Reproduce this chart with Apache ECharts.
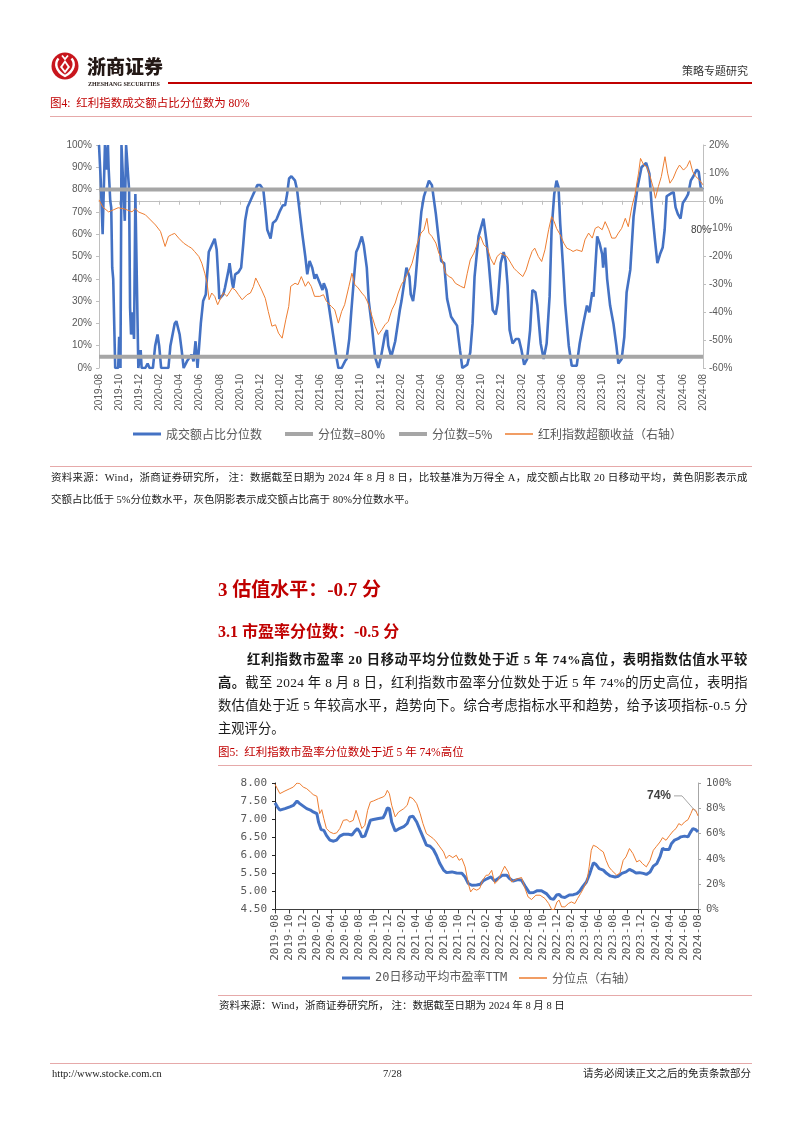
<!DOCTYPE html>
<html><head><meta charset="utf-8">
<script src="https://cdn.jsdelivr.net/npm/echarts@6/dist/echarts.min.js"></script>
<style>
html,body{margin:0;padding:0;background:#fff;}
#page{position:relative;width:802px;height:1133px;overflow:hidden;background:#fff;}
#chart{position:absolute;left:0;top:0;width:802px;height:1133px;z-index:0;}
.t{position:absolute;white-space:nowrap;line-height:1;z-index:2;font-family:"Liberation Serif","Noto Sans CJK SC",serif;color:#1a1a1a;}
.ln{position:absolute;z-index:2;height:1px;background:#e6a9a9;}
.red{color:#c00000;}
.b{font-weight:bold;}
.j{display:inline-block;}
</style></head>
<body><div id="page">
<div id="chart"></div>
<svg style="position:absolute;left:51px;top:52px;z-index:2" width="28" height="28" viewBox="0 0 28 28">
<circle cx="14" cy="14" r="13.5" fill="#c8161d"/>
<path d="M7.5 6.5 C3.5 11,4.5 19,14 24 C23.5 19,24.5 11,20.5 6.5" stroke="#fff" stroke-width="2.4" fill="none"/>
<path d="M14 8 L19 15 L14 21.5 L9 15Z" fill="#fff"/>
<path d="M14 11 L16.6 15 L14 18.6 L11.4 15Z" fill="#c8161d"/>
<path d="M11 3.5 L14 7 L17 3.5" stroke="#fff" stroke-width="1.8" fill="none"/>
</svg>
<div class="t" style="left:87px;top:56px;font-size:19px;font-weight:900;font-family:'Noto Sans CJK SC';color:#231815;">浙商证券</div>
<div class="t b" style="left:88px;top:81px;font-size:6px;color:#231815;">ZHESHANG SECURITIES</div>
<div class="ln" style="left:168px;top:82px;width:584px;height:2px;background:#c00000;"></div>
<div class="t" style="left:682px;top:66px;font-size:11px;color:#333;">策略专题研究</div>

<div class="t red" style="left:50px;top:98px;font-size:11.5px;">图4:&nbsp;&nbsp;红利指数成交额占比分位数为 80%</div>
<div class="ln" style="left:50px;top:116px;width:702px;"></div>

<div class="ln" style="left:50px;top:466px;width:702px;"></div>
<div class="t" style="left:51px;top:473px;font-size:10.5px;"><span class="j" data-w="697">资料来源：Wind，浙商证券研究所，  注：数据截至日期为 2024 年 8 月 8 日，比较基准为万得全 A，成交额占比取 20 日移动平均，黄色阴影表示成</span></div>
<div class="t" style="left:51px;top:495px;font-size:10.5px;">交额占比低于 5%分位数水平，灰色阴影表示成交额占比高于 80%分位数水平。</div>

<div class="t red b" style="left:218px;top:580px;font-size:19px;">3 估值水平：-0.7 分</div>
<div class="t red b" style="left:218px;top:624px;font-size:16px;">3.1 市盈率分位数：-0.5 分</div>

<div class="t b" style="left:247px;top:653px;font-size:13.3px;"><span class="j" data-w="501">红利指数市盈率 20 日移动平均分位数处于近 5 年 74%高位，表明指数估值水平较</span></div>
<div class="t" style="left:218px;top:676px;font-size:13.3px;"><span class="j" data-w="530"><b>高。</b>截至 2024 年 8 月 8 日，红利指数市盈率分位数处于近 5 年 74%的历史高位，表明指</span></div>
<div class="t" style="left:218px;top:699px;font-size:13.3px;"><span class="j" data-w="530">数估值处于近 5 年较高水平，趋势向下。综合考虑指标水平和趋势，给予该项指标-0.5 分</span></div>
<div class="t" style="left:218px;top:722px;font-size:13.3px;">主观评分。</div>

<div class="t red" style="left:218px;top:747px;font-size:11.5px;">图5:&nbsp;&nbsp;红利指数市盈率分位数处于近 5 年 74%高位</div>
<div class="ln" style="left:218px;top:765px;width:534px;"></div>

<div class="ln" style="left:218px;top:995px;width:534px;"></div>
<div class="t" style="left:219px;top:1001px;font-size:10.5px;">资料来源：Wind，浙商证券研究所，  注：数据截至日期为 2024 年 8 月 8 日</div>

<div class="ln" style="left:50px;top:1063px;width:702px;"></div>
<div class="t" style="left:52px;top:1069px;font-size:10.5px;">http://www.stocke.com.cn</div>
<div class="t" style="left:383px;top:1069px;font-size:10.5px;">7/28</div>
<div class="t" style="left:583px;top:1069px;font-size:10.5px;">请务必阅读正文之后的免责条款部分</div>
</div>
<script>
// ---------- data ----------
const xTickLabels = ['2019-08','2019-10','2019-12','2020-02','2020-04','2020-06','2020-08','2020-10','2020-12','2021-02','2021-04','2021-06','2021-08','2021-10','2021-12','2022-02','2022-04','2022-06','2022-08','2022-10','2022-12','2023-02','2023-04','2023-06','2023-08','2023-10','2023-12','2024-02','2024-04','2024-06','2024-08'];
const startDate = '2019-08-08';
const endDate = '2024-08-08';
const threshold80 = 80;
const threshold5 = 5;

// 成交额占比分位数 (%)
const turnoverPctl = [['2019-08-08',100],['2019-08-13',85],['2019-08-19',60],['2019-08-26',100],['2019-09-01',89],['2019-09-04',100],['2019-09-06',90],['2019-09-11',75],['2019-09-14',72],['2019-09-17',45],['2019-09-20',40],['2019-09-26',0],['2019-10-05',0],['2019-10-08',14],['2019-10-12',0],['2019-10-15',100],['2019-10-21',100],['2019-10-25',66],['2019-10-29',100],['2019-11-04',100],['2019-11-07',80],['2019-11-10',27],['2019-11-13',15],['2019-11-17',25],['2019-11-22',13],['2019-11-26',78],['2019-12-05',0],['2019-12-09',0],['2019-12-12',8],['2019-12-15',0],['2019-12-26',0],['2020-01-02',2],['2020-01-08',0],['2020-01-18',0],['2020-01-25',10],['2020-02-01',15],['2020-02-06',10],['2020-02-12',0],['2020-03-05',0],['2020-03-11',10],['2020-03-24',20],['2020-03-29',21],['2020-04-08',15],['2020-04-14',8],['2020-04-20',0],['2020-04-30',3],['2020-05-14',6],['2020-05-20',3],['2020-05-26',12],['2020-06-01',0],['2020-06-11',20],['2020-06-18',30],['2020-06-26',33],['2020-07-05',52],['2020-07-14',55],['2020-07-23',58],['2020-07-29',53],['2020-08-03',40],['2020-08-06',31],['2020-08-18',33],['2020-08-23',36],['2020-09-03',44],['2020-09-06',47],['2020-09-14',38],['2020-09-17',36],['2020-09-23',42],['2020-10-03',43],['2020-10-11',45],['2020-10-17',55],['2020-10-23',66],['2020-10-30',72],['2020-11-08',75],['2020-11-14',77],['2020-11-23',80],['2020-11-29',82],['2020-12-08',82],['2020-12-17',80],['2020-12-24',70],['2020-12-29',62],['2021-01-08',58],['2021-01-15',65],['2021-01-23',66],['2021-01-27',67],['2021-02-04',70],['2021-02-14',73],['2021-02-21',73],['2021-02-27',78],['2021-03-05',85],['2021-03-12',86],['2021-03-23',84],['2021-03-29',80],['2021-04-06',70],['2021-04-14',60],['2021-04-23',50],['2021-04-29',42],['2021-05-06',48],['2021-05-14',45],['2021-05-21',40],['2021-05-26',42],['2021-06-06',38],['2021-06-14',35],['2021-06-18',38],['2021-06-26',35],['2021-07-03',28],['2021-07-11',20],['2021-07-21',10],['2021-07-26',5],['2021-08-01',0],['2021-08-11',0],['2021-08-21',3],['2021-08-26',4],['2021-09-03',13],['2021-09-09',25],['2021-09-17',40],['2021-09-24',52],['2021-09-30',54],['2021-10-11',59],['2021-10-17',55],['2021-10-26',45],['2021-11-01',30],['2021-11-11',18],['2021-11-20',5],['2021-11-30',0],['2021-12-08',5],['2021-12-14',10],['2021-12-20',15],['2021-12-26',17],['2021-12-30',10],['2022-01-08',5],['2022-01-14',5],['2022-01-20',12],['2022-01-28',20],['2022-02-03',26],['2022-02-08',30],['2022-02-23',45],['2022-03-04',41],['2022-03-08',33],['2022-03-15',30],['2022-03-21',37],['2022-04-01',57],['2022-04-09',70],['2022-04-17',77],['2022-05-02',84],['2022-05-11',82],['2022-05-23',69],['2022-06-01',57],['2022-06-08',48],['2022-06-17',47],['2022-06-26',31],['2022-07-08',23],['2022-07-17',21],['2022-07-26',19],['2022-08-04',8],['2022-08-11',0],['2022-08-26',1.5],['2022-09-04',7],['2022-09-11',20],['2022-09-17',41],['2022-09-29',59],['2022-10-14',67],['2022-10-23',57],['2022-10-30',47],['2022-11-11',26],['2022-11-20',24],['2022-11-26',29],['2022-12-05',47],['2022-12-14',52],['2022-12-20',48],['2022-12-26',37],['2023-01-01',17],['2023-01-10',11],['2023-01-20',13],['2023-01-29',13],['2023-02-06',8],['2023-02-14',1.5],['2023-02-23',4],['2023-03-04',17],['2023-03-11',35],['2023-03-20',34],['2023-03-26',28],['2023-04-05',11],['2023-04-14',4],['2023-04-23',11],['2023-05-02',32],['2023-05-08',62],['2023-05-16',78],['2023-05-23',84],['2023-05-29',81],['2023-06-03',65],['2023-06-11',47],['2023-06-18',29],['2023-06-29',10],['2023-07-08',1],['2023-07-23',1],['2023-08-01',11],['2023-08-12',20],['2023-08-23',28],['2023-08-30',25],['2023-09-08',34],['2023-09-12',32],['2023-09-23',59],['2023-09-30',56],['2023-10-08',51],['2023-10-11',45],['2023-10-17',54],['2023-10-23',40],['2023-11-01',28],['2023-11-11',20],['2023-11-20',10],['2023-11-26',2],['2023-12-06',4],['2023-12-14',14],['2023-12-21',34],['2024-01-01',44],['2024-01-11',68],['2024-01-23',81],['2024-02-04',90],['2024-02-18',92],['2024-02-28',87],['2024-03-06',72],['2024-03-16',57],['2024-03-23',47],['2024-03-31',51],['2024-04-08',54],['2024-04-14',62],['2024-04-20',77],['2024-04-30',78],['2024-05-11',79],['2024-05-17',72],['2024-05-24',69],['2024-06-01',67],['2024-06-08',74],['2024-06-17',76],['2024-06-24',78],['2024-07-02',84],['2024-07-10',86],['2024-07-20',89],['2024-07-26',88],['2024-08-01',81],['2024-08-08',80]];

// 红利指数超额收益 (%, right axis)
const excessReturn = [['2019-08-08',0.3],['2019-08-20',-2.3],['2019-09-06',-4],['2019-09-20',-3.3],['2019-10-05',-2.5],['2019-10-26',-3],['2019-11-16',-4],['2019-11-26',-2.7],['2019-12-05',-4],['2019-12-26',-5],['2020-01-11',-6.9],['2020-01-26',-8.7],['2020-02-10',-11],['2020-02-24',-16.4],['2020-03-05',-12.8],['2020-03-14',-12.2],['2020-03-24',-11.7],['2020-04-05',-13.4],['2020-04-20',-15.2],['2020-05-05',-16.4],['2020-05-14',-17],['2020-05-23',-18.2],['2020-06-05',-20],['2020-06-14',-22.4],['2020-06-23',-26],['2020-06-30',-29.6],['2020-07-06',-35.5],['2020-07-14',-33.1],['2020-07-23',-34.3],['2020-08-01',-37.3],['2020-08-08',-35.5],['2020-08-18',-33],['2020-08-29',-34.3],['2020-09-14',-31.3],['2020-09-23',-32],['2020-10-03',-33.7],['2020-10-14',-35.5],['2020-10-29',-33.7],['2020-11-08',-33.1],['2020-11-17',-30.8],['2020-11-24',-27.7],['2020-12-02',-29.6],['2020-12-12',-32],['2020-12-23',-35],['2021-01-01',-39.7],['2021-01-12',-45],['2021-01-23',-44.5],['2021-02-01',-47.5],['2021-02-12',-49.3],['2021-02-23',-42.7],['2021-03-04',-37.9],['2021-03-10',-30.7],['2021-03-23',-29.6],['2021-04-01',-30.1],['2021-04-11',-27.2],['2021-04-23',-30.7],['2021-05-02',-29],['2021-05-11',-30.7],['2021-05-21',-34.3],['2021-06-06',-34.3],['2021-06-17',-33.7],['2021-06-26',-36.1],['2021-07-11',-37.9],['2021-07-21',-39.1],['2021-08-01',-43.9],['2021-08-11',-39.7],['2021-08-20',-37.3],['2021-09-02',-30.7],['2021-09-11',-26],['2021-09-20',-30.1],['2021-09-30',-31.3],['2021-10-11',-33.1],['2021-10-20',-34.3],['2021-10-30',-36.7],['2021-11-11',-41.5],['2021-11-20',-45],['2021-11-30',-48],['2021-12-11',-46.2],['2021-12-20',-44.5],['2021-12-30',-43.3],['2022-01-10',-39.1],['2022-01-20',-36.7],['2022-01-29',-33.1],['2022-02-08',-30],['2022-02-17',-28.4],['2022-02-27',-26],['2022-03-12',-22.4],['2022-03-28',-15.2],['2022-04-08',-11.6],['2022-04-17',-10.4],['2022-04-26',-6.3],['2022-05-02',-11.6],['2022-05-11',-12.8],['2022-05-23',-15.2],['2022-06-01',-18.8],['2022-06-11',-21.2],['2022-06-21',-26],['2022-07-02',-27.2],['2022-07-11',-27.8],['2022-07-21',-29.6],['2022-08-06',-30.7],['2022-08-17',-31.3],['2022-08-26',-26],['2022-09-04',-21.2],['2022-09-15',-18.8],['2022-09-26',-15.2],['2022-10-05',-12.8],['2022-10-15',-15.8],['2022-10-26',-17],['2022-11-04',-20.6],['2022-11-15',-23],['2022-11-24',-20],['2022-12-05',-18.8],['2022-12-14',-19.4],['2022-12-24',-20],['2023-01-05',-22.4],['2023-01-14',-24.2],['2023-01-24',-25.4],['2023-02-10',-27.2],['2023-02-20',-24.8],['2023-03-01',-21.2],['2023-03-10',-18.2],['2023-03-18',-17],['2023-03-29',-20],['2023-04-08',-21.8],['2023-04-18',-17.6],['2023-04-29',-10.4],['2023-05-08',-5.7],['2023-05-16',-7.5],['2023-05-23',-9.9],['2023-06-03',-12.2],['2023-06-14',-15.2],['2023-06-23',-17],['2023-07-04',-17.6],['2023-07-12',-18.2],['2023-07-23',-17.6],['2023-08-08',-18.2],['2023-08-17',-14],['2023-08-28',-11.6],['2023-09-08',-13.4],['2023-09-17',-9.9],['2023-09-26',-9.3],['2023-10-08',-10.4],['2023-10-17',-7.5],['2023-10-28',-10.4],['2023-11-06',-13.4],['2023-11-17',-13.4],['2023-11-26',-11.6],['2023-12-06',-9.9],['2023-12-17',-6.3],['2023-12-26',-9.3],['2024-01-06',-2.1],['2024-01-15',2.1],['2024-01-26',9.9],['2024-02-01',15.2],['2024-02-11',12.8],['2024-02-20',12.2],['2024-03-01',8.7],['2024-03-11',4.5],['2024-03-17',0.9],['2024-03-26',5.1],['2024-04-04',8.7],['2024-04-15',15.8],['2024-04-23',9.9],['2024-04-30',6.3],['2024-05-10',8.1],['2024-05-20',11],['2024-05-29',12.8],['2024-06-10',11],['2024-06-20',12.2],['2024-06-29',14.4],['2024-07-08',10.4],['2024-07-17',8.7],['2024-07-28',7.5],['2024-08-08',5.7]];

// 20日移动平均市盈率TTM
const peTTM = [['2019-08-08',7.45],['2019-08-18',7.34],['2019-08-29',7.25],['2019-09-20',7.29],['2019-10-11',7.34],['2019-10-26',7.38],['2019-11-11',7.5],['2019-11-23',7.43],['2019-12-08',7.36],['2019-12-23',7.29],['2020-01-08',7.25],['2020-01-20',7.2],['2020-02-05',7.15],['2020-02-12',6.92],['2020-02-23',6.71],['2020-03-06',6.69],['2020-03-17',6.55],['2020-04-01',6.42],['2020-04-17',6.39],['2020-04-30',6.42],['2020-05-14',6.53],['2020-05-29',6.58],['2020-06-20',6.58],['2020-07-05',6.56],['2020-07-18',6.67],['2020-07-29',6.74],['2020-08-08',6.65],['2020-08-17',6.51],['2020-08-30',6.53],['2020-09-11',6.74],['2020-09-23',6.97],['2020-10-06',6.99],['2020-10-28',7.02],['2020-11-17',7.04],['2020-11-26',7.15],['2020-12-05',7.31],['2020-12-14',7.29],['2020-12-24',6.92],['2021-01-08',6.67],['2021-01-23',6.73],['2021-02-14',6.79],['2021-03-01',6.88],['2021-03-12',7.06],['2021-03-26',7.08],['2021-04-11',6.92],['2021-04-26',6.69],['2021-05-08',6.51],['2021-05-23',6.28],['2021-06-08',6.25],['2021-06-22',6.16],['2021-07-05',6.0],['2021-07-20',5.77],['2021-08-05',5.59],['2021-08-18',5.52],['2021-09-10',5.54],['2021-09-30',5.51],['2021-10-23',5.5],['2021-11-06',5.4],['2021-11-20',5.22],['2021-12-05',5.17],['2021-12-26',5.18],['2022-01-11',5.2],['2022-01-24',5.3],['2022-02-08',5.35],['2022-02-26',5.4],['2022-03-14',5.29],['2022-03-29',5.36],['2022-04-17',5.45],['2022-05-05',5.45],['2022-05-17',5.36],['2022-06-01',5.29],['2022-06-23',5.33],['2022-07-08',5.31],['2022-07-23',5.15],['2022-08-11',4.96],['2022-08-29',4.97],['2022-09-14',5.02],['2022-10-02',5.02],['2022-10-23',4.94],['2022-11-11',4.8],['2022-11-23',4.78],['2022-12-06',4.9],['2022-12-17',4.92],['2022-12-28',4.85],['2023-01-11',4.83],['2023-01-30',4.9],['2023-02-17',4.91],['2023-03-04',4.94],['2023-03-16',5.01],['2023-03-29',5.13],['2023-04-14',5.26],['2023-04-29',5.5],['2023-05-14',5.79],['2023-05-25',5.75],['2023-06-08',5.63],['2023-06-26',5.59],['2023-07-10',5.5],['2023-07-26',5.43],['2023-08-16',5.4],['2023-08-29',5.42],['2023-09-14',5.5],['2023-10-02',5.54],['2023-10-17',5.61],['2023-10-30',5.57],['2023-11-14',5.51],['2023-11-29',5.52],['2023-12-16',5.5],['2023-12-29',5.47],['2024-01-14',5.54],['2024-01-28',5.7],['2024-02-12',5.77],['2024-02-26',5.96],['2024-03-08',6.19],['2024-03-17',6.16],['2024-04-05',6.16],['2024-04-15',6.32],['2024-04-29',6.42],['2024-05-14',6.46],['2024-05-26',6.51],['2024-06-11',6.53],['2024-06-26',6.51],['2024-07-05',6.62],['2024-07-17',6.74],['2024-07-29',6.71],['2024-08-08',6.65]];

// 分位点 (%, right axis)
const pePctl = [['2019-08-08',99],['2019-08-18',95.5],['2019-08-29',91.6],['2019-09-20',93.7],['2019-10-11',95.5],['2019-10-26',96.8],['2019-11-11',100],['2019-11-23',99.5],['2019-12-08',96.8],['2019-12-23',95.5],['2020-01-08',92.9],['2020-01-20',90.8],['2020-02-05',89.5],['2020-02-17',75.8],['2020-02-26',78.9],['2020-03-06',71.8],['2020-03-17',64],['2020-04-01',61.3],['2020-04-17',60],['2020-04-30',60.5],['2020-05-14',64],['2020-05-29',70.5],['2020-06-14',71],['2020-06-26',69.2],['2020-07-11',70.5],['2020-07-23',78.4],['2020-08-08',69.2],['2020-08-17',64],['2020-08-30',66.6],['2020-09-11',78.4],['2020-09-23',85],['2020-10-06',85.8],['2020-10-28',87.6],['2020-11-17',89],['2020-11-26',90.3],['2020-12-05',94.2],['2020-12-14',91.6],['2020-12-24',82.4],['2021-01-08',73.2],['2021-01-23',77.1],['2021-02-14',79.7],['2021-03-01',82.4],['2021-03-12',89],['2021-03-26',87.6],['2021-04-11',83.7],['2021-04-26',75.8],['2021-05-08',67.9],['2021-05-23',60],['2021-06-08',57.9],['2021-06-22',56],['2021-07-05',53.4],['2021-07-20',49.5],['2021-08-05',45.5],['2021-08-16',40.3],['2021-08-29',42.9],['2021-09-14',41],['2021-09-29',42.9],['2021-10-11',38.9],['2021-10-23',40.3],['2021-11-06',33.7],['2021-11-20',20.5],['2021-11-30',13.9],['2021-12-11',16.6],['2021-12-26',15.3],['2022-01-08',16.6],['2022-01-21',23.2],['2022-02-05',27.1],['2022-02-15',27.1],['2022-03-01',31],['2022-03-14',20.5],['2022-03-29',23.2],['2022-04-14',29.7],['2022-04-26',34.2],['2022-05-11',29.7],['2022-05-26',21.8],['2022-06-08',23.2],['2022-06-23',24.5],['2022-07-08',25.3],['2022-07-23',16.6],['2022-08-05',10],['2022-08-20',7.9],['2022-09-08',11.3],['2022-09-26',11.3],['2022-10-17',8.7],['2022-11-02',4.7],['2022-11-15',0],['2022-11-26',0],['2022-12-08',6],['2022-12-17',7.4],['2022-12-28',2.1],['2023-01-11',2.1],['2023-01-26',4.7],['2023-02-08',6],['2023-02-23',4.7],['2023-03-07',8.7],['2023-03-20',12.6],['2023-04-01',16.6],['2023-04-17',23.2],['2023-04-26',33.7],['2023-05-05',46.8],['2023-05-14',50.8],['2023-05-29',49.5],['2023-06-11',47.4],['2023-06-26',45.5],['2023-07-08',38.9],['2023-07-20',33.7],['2023-08-01',31],['2023-08-23',27.1],['2023-09-06',28.9],['2023-09-20',38.9],['2023-10-02',41.6],['2023-10-17',48.2],['2023-11-01',44.2],['2023-11-17',37.6],['2023-11-30',38.9],['2023-12-12',36.3],['2023-12-29',33.7],['2024-01-14',38.9],['2024-01-28',46.8],['2024-02-11',50],['2024-02-26',53.4],['2024-03-08',56.8],['2024-03-23',54.7],['2024-04-08',58.7],['2024-04-23',62.1],['2024-05-05',64],['2024-05-17',67.9],['2024-05-29',66.6],['2024-06-11',69.2],['2024-06-26',71],['2024-07-08',75.8],['2024-07-17',79.7],['2024-07-29',78.4],['2024-08-08',74]];

// ---------- helpers ----------
function toTime(s){const p=s.split('-').map(Number);return new Date(p[0],p[1]-1,p[2]).getTime();}
function pts(arr){return arr.map(d=>[toTime(d[0]),d[1]]);}
const tMin = toTime(startDate), tMax = toTime(endDate);
const GREY='#595959';
const sans='Liberation Sans';
const mono='DejaVu Sans Mono';
const BLUE='#4472c4', ORANGE='#ed7d31', LGREY='#a6a6a6';

const chart = echarts.init(document.getElementById('chart'), null, {renderer:'canvas'});
function legendItem(name,left,top,font,color,h){
  return {data:[{name:name,icon:'rect',itemStyle:{color:color,borderWidth:0}}],left:left,top:top,padding:0,
    itemWidth:28,itemHeight:h,itemGap:0,selectedMode:false,
    textStyle:{fontSize:12,color:GREY,fontFamily:font,padding:[0,0,0,0]}};
}
const cjk='Noto Sans CJK SC';
const option = {
  animation:false,
  backgroundColor:'transparent',
  grid:[{left:99,top:145,width:604,height:223},{left:275,top:783,width:423,height:126.5}],
  legend:[
    legendItem('成交额占比分位数',133,428,cjk,BLUE,3),
    legendItem('分位数=80%',285,428,cjk,LGREY,4),
    legendItem('分位数=5%',399,428,cjk,LGREY,4),
    legendItem('红利指数超额收益（右轴）',505,428,cjk,ORANGE,1.5),
    legendItem('20日移动平均市盈率TTM',342,972,mono+','+cjk,BLUE,3),
    legendItem('分位点（右轴）',519,972,cjk,ORANGE,1.5)
  ],
  xAxis:[
    {type:'time',gridIndex:0,min:tMin,max:tMax,show:false},
    {type:'category',gridIndex:0,data:xTickLabels,boundaryGap:false,position:'bottom',
      axisLine:{lineStyle:{color:'#bfbfbf'}},axisTick:{interval:0,length:4,lineStyle:{color:'#bfbfbf'}},
      axisLabel:{interval:0,rotate:90,fontSize:10,color:GREY,fontFamily:sans,margin:6},splitLine:{show:false}},
    {type:'time',gridIndex:1,min:tMin,max:tMax,show:false},
    {type:'category',gridIndex:1,data:xTickLabels,boundaryGap:false,position:'bottom',
      axisLine:{lineStyle:{color:'#404040'}},axisTick:{interval:0,length:4,lineStyle:{color:'#404040'}},
      axisLabel:{interval:0,rotate:90,fontSize:11,color:GREY,fontFamily:mono,margin:5},splitLine:{show:false}}
  ],
  yAxis:[
    {type:'value',gridIndex:0,min:0,max:100,interval:10,position:'left',
      axisLine:{show:true,lineStyle:{color:'#bfbfbf'}},axisTick:{show:true,length:3,lineStyle:{color:'#bfbfbf'}},
      splitLine:{show:false},axisLabel:{formatter:'{value}%',fontSize:10,color:GREY,fontFamily:sans,margin:7}},
    {type:'value',gridIndex:0,min:-60,max:20,interval:10,position:'right',
      axisLine:{show:true,lineStyle:{color:'#bfbfbf'}},axisTick:{show:true,length:3,lineStyle:{color:'#bfbfbf'}},
      splitLine:{show:false},axisLabel:{formatter:'{value}%',fontSize:10,color:GREY,fontFamily:sans,margin:6}},
    {type:'value',gridIndex:1,min:4.5,max:8,interval:0.5,position:'left',
      axisLine:{show:true,lineStyle:{color:'#262626'}},axisTick:{show:true,length:3,lineStyle:{color:'#262626'}},
      splitLine:{show:false},axisLabel:{formatter:v=>v.toFixed(2),fontSize:11,color:GREY,fontFamily:mono,margin:8}},
    {type:'value',gridIndex:1,min:0,max:100,interval:20,position:'right',
      axisLine:{show:true,lineStyle:{color:LGREY}},axisTick:{show:true,length:3,lineStyle:{color:LGREY}},
      splitLine:{show:false},axisLabel:{formatter:'{value}%',fontSize:10.5,color:GREY,fontFamily:mono,margin:8}}
  ],
  series:[
    {name:'成交额占比分位数',type:'line',xAxisIndex:0,yAxisIndex:0,symbol:'none',data:pts(turnoverPctl),
      lineStyle:{width:2.6,color:BLUE},itemStyle:{color:BLUE}},
    {name:'分位数=80%',type:'line',xAxisIndex:0,yAxisIndex:0,symbol:'none',data:[[tMin,threshold80],[tMax,threshold80]],
      lineStyle:{width:4,color:LGREY},itemStyle:{color:LGREY}},
    {name:'分位数=5%',type:'line',xAxisIndex:0,yAxisIndex:0,symbol:'none',data:[[tMin,threshold5],[tMax,threshold5]],
      lineStyle:{width:4,color:LGREY},itemStyle:{color:LGREY}},
    {name:'红利指数超额收益（右轴）',type:'line',xAxisIndex:0,yAxisIndex:1,symbol:'none',data:pts(excessReturn),
      lineStyle:{width:1,color:ORANGE},itemStyle:{color:ORANGE}},
    {name:'20日移动平均市盈率TTM',type:'line',xAxisIndex:2,yAxisIndex:2,symbol:'none',data:pts(peTTM),
      lineStyle:{width:3,color:BLUE},itemStyle:{color:BLUE}},
    {name:'分位点（右轴）',type:'line',xAxisIndex:2,yAxisIndex:3,symbol:'none',data:pts(pePctl),
      lineStyle:{width:1,color:ORANGE},itemStyle:{color:ORANGE}}
  ]
};
chart.setOption(option);

// annotations anchored on the last data points
const last1 = turnoverPctl[turnoverPctl.length-1];
const p1 = chart.convertToPixel({xAxisIndex:0,yAxisIndex:0},[toTime(last1[0]),last1[1]]);
const last2 = pePctl[pePctl.length-1];
const p2 = chart.convertToPixel({xAxisIndex:2,yAxisIndex:3},[toTime(last2[0]),last2[1]]);
chart.setOption({graphic:[
  {type:'text',x:p1[0]-2,y:p1[1]+41,z:100,style:{text:last1[1]+'%',fill:'#404040',font:'10px '+sans,align:'center',verticalAlign:'middle',textAlign:'center',textVerticalAlign:'middle'}},
  {type:'text',x:p2[0]-27,y:p2[1]-20,z:100,style:{text:last2[1]+'%',fill:'#404040',font:'bold 12px '+sans,align:'right',verticalAlign:'middle',textAlign:'right',textVerticalAlign:'middle'}},
  {type:'polyline',z:100,shape:{points:[[p2[0]-24,p2[1]-20],[p2[0]-16,p2[1]-20],[p2[0]-2,p2[1]-4]]},style:{stroke:LGREY,lineWidth:1,fill:null}}
]});

// justify single text lines to their target widths
function justifyAll(){
  document.querySelectorAll('.j').forEach(el=>{
    el.style.letterSpacing='0px';
    const w = +el.dataset.w;
    const nat = el.getBoundingClientRect().width;
    const n = el.textContent.length;
    el.style.letterSpacing = ((w-nat)/n)+'px';
  });
}
justifyAll();
if(document.fonts&&document.fonts.ready){document.fonts.ready.then(justifyAll);}
</script>
</body></html>
